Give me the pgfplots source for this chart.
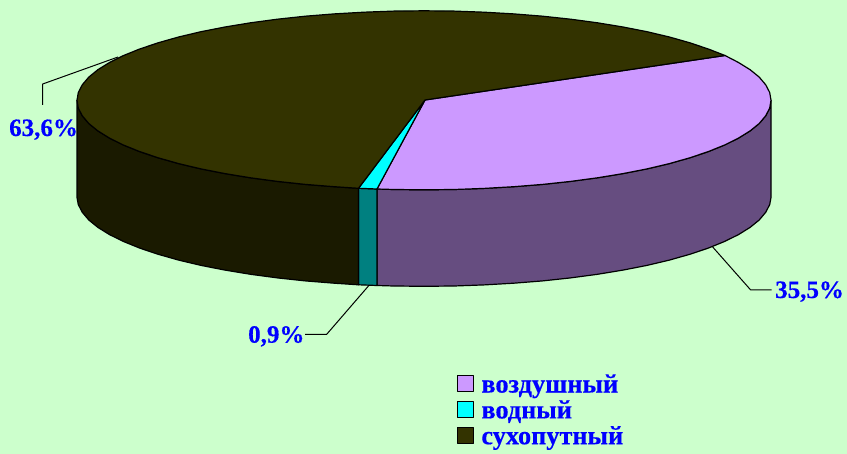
\documentclass[border=0pt]{standalone}
\usepackage{fontspec}
\setmainfont{Liberation Serif}[BoldFeatures={FakeBold=0.4}]
\usepackage{pgfplots}
\pgfplotsset{compat=1.18}
\definecolor{bg}{RGB}{204,255,204}
\definecolor{airtop}{RGB}{204,153,255}
\definecolor{airside}{RGB}{102,77,128}
\definecolor{seatop}{RGB}{0,255,255}
\definecolor{seaside}{RGB}{0,128,128}
\definecolor{landtop}{RGB}{51,51,0}
\definecolor{landside}{RGB}{26,26,0}
\definecolor{labelblue}{RGB}{0,0,255}
\begin{document}
\begin{tikzpicture}
\begin{axis}[
  width=847pt, height=454pt, scale only axis,
  xmin=0, xmax=847, ymin=0, ymax=454, y dir=reverse,
  hide axis,
  every axis plot/.append style={line width=1.2pt, line join=round},
  legend style={
    at={(axis cs:456.5,375)}, anchor=north west,
    draw=none, fill=none, inner sep=0pt,
    row sep=2pt, column sep=7.5pt,
    font=\fontsize{26.3}{26}\selectfont\bfseries\color{labelblue},
    nodes={inner sep=0pt, text height=17pt, text depth=6.5pt},
  },
  legend cell align=left,
  legend image code/.code={\draw[#1,line width=1.2pt] (0.6pt,-4.5pt) rectangle (16.6pt,11.5pt);},
]
% background
\addplot[fill=bg, draw=none, forget plot] coordinates {(0,0) (847,0) (847,454) (0,454)} \closedcycle;

% leader lines
\addplot[black, line width=1pt, forget plot] coordinates {(42.7,105) (42.7,84) (118,57)};
\addplot[black, line width=1pt, forget plot] coordinates {(712.7,247) (750.7,290) (771.7,290)};
\addplot[black, line width=1pt, forget plot] coordinates {(369.3,285) (326.7,334.3) (305,334.3)};

% side walls
\addplot[fill=airside, draw=black, forget plot] coordinates {
  (771,100.3) (769.7,108.1) (765.7,115.8) (759.2,123.5) (750.1,130.9) (738.5,138.1)
  (724.5,145.05) (708.3,151.6) (689.8,157.8) (669.4,163.6) (647,168.9) (623,173.6)
  (597.5,177.8) (570.6,181.4) (542.7,184.4) (513.8,186.7) (484.2,188.4) (454.2,189.5)
  (424,189.8) (393.8,189.5) (377,189)
  (377,285.5) (393.8,286) (424,286.3) (454.2,286) (484.2,284.9) (513.8,283.2)
  (542.7,280.9) (570.6,277.9) (597.5,274.3) (623,270.1) (647,265.4) (669.4,260.1)
  (689.8,254.3) (708.3,248.1) (724.5,241.5) (738.5,234.6) (750.1,227.4) (759.2,220)
  (765.7,212.3) (769.7,204.6) (771,197.5)
} -- cycle;
\addplot[fill=seaside, draw=black, forget plot] coordinates {
  (358.5,188.3) (377,189) (377,285.5) (358.5,284.8)
} -- cycle;
\addplot[fill=landside, draw=black, forget plot] coordinates {
  (358.5,188.3) (334.2,186.7) (305.3,184.4) (277.4,181.4) (250.5,177.8) (225,173.6)
  (201,168.9) (178.6,163.6) (158.2,157.8) (139.7,151.6) (123.5,145.05) (109.5,138.1)
  (97.9,130.9) (88.8,123.5) (82.3,115.8) (78.3,108.1) (77,100.3)
  (77,197.5) (78.3,204.6) (82.3,212.3) (88.8,220) (97.9,227.4) (109.5,234.6)
  (123.5,241.5) (139.7,248.1) (158.2,254.3) (178.6,260.1) (201,265.4) (225,270.1)
  (250.5,274.3) (277.4,277.9) (305.3,280.9) (334.2,283.2) (358.5,284.8)
} -- cycle;

% top faces
\addplot[fill=airtop, draw=black] coordinates {
  (425,100) (725,55.5) (738.5,62.5) (750.1,69.7) (759.2,77.1) (765.7,84.8) (769.7,92.5)
  (771,100.3) (769.7,108.1) (765.7,115.8) (759.2,123.5) (750.1,130.9) (738.5,138.1)
  (724.5,145.05) (708.3,151.6) (689.8,157.8) (669.4,163.6) (647,168.9) (623,173.6)
  (597.5,177.8) (570.6,181.4) (542.7,184.4) (513.8,186.7) (484.2,188.4) (454.2,189.5)
  (424,189.8) (393.8,189.5) (377,189)
} -- cycle;
\addlegendentry{воздушный}
\addplot[fill=seatop, draw=black] coordinates {
  (425,100) (377,189) (358.5,188.3)
} -- cycle;
\addlegendentry{водный}
\addplot[fill=landtop, draw=black] coordinates {
  (425,100) (358.5,188.3) (334.2,186.7) (305.3,184.4) (277.4,181.4) (250.5,177.8) (225,173.6)
  (201,168.9) (178.6,163.6) (158.2,157.8) (139.7,151.6) (123.5,145.05) (109.5,138.1)
  (97.9,130.9) (88.8,123.5) (82.3,115.8) (78.3,108.1) (77,100.3)
  (78.3,92.5) (82.3,84.8) (88.8,77.1) (97.9,69.7) (109.5,62.5) (123.5,55.55) (139.7,49)
  (158.2,42.8) (178.6,37) (201,31.7) (225,27) (250.5,22.8) (277.4,19.2) (305.3,16.2)
  (334.2,13.9) (363.8,12.2) (393.8,11.1) (424,10.8) (454.2,11.1) (484.2,12.2) (513.8,13.9)
  (542.7,16.2) (570.6,19.2) (597.5,22.8) (623,27) (647,31.7) (669.4,37) (689.8,42.8)
  (708.3,49) (725,55.5)
} -- cycle;
\addlegendentry{сухопутный}

% percentage labels
\node[anchor=base west, inner sep=0pt, text=labelblue, font=\fontsize{25}{28}\selectfont\bfseries] at (axis cs:9,136) {63,6\%};
\node[anchor=base west, inner sep=0pt, text=labelblue, font=\fontsize{25}{28}\selectfont\bfseries] at (axis cs:775,298) {35,5\%};
\node[anchor=base west, inner sep=0pt, text=labelblue, font=\fontsize{25}{28}\selectfont\bfseries] at (axis cs:248,342.7) {0,9\%};
\end{axis}
\end{tikzpicture}
\end{document}
